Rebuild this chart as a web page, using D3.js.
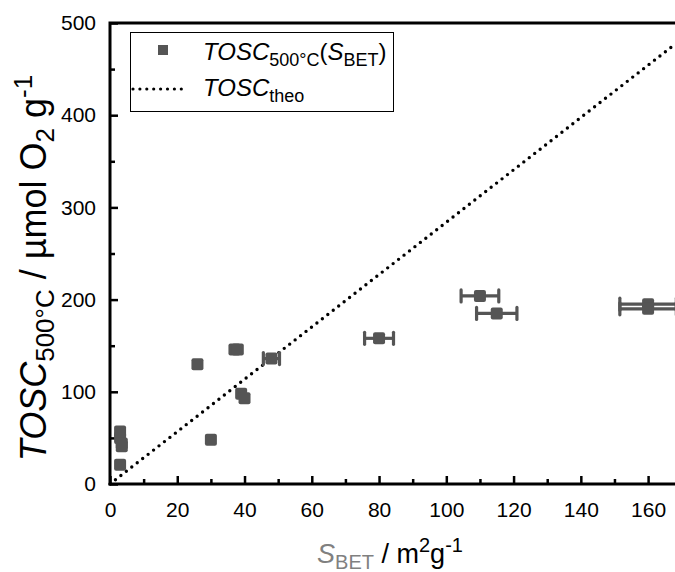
<!DOCTYPE html>
<meta charset="utf-8">
<style>
body { margin: 0; background: #fff; }
svg { font-family: "Liberation Sans", Arial, sans-serif; }
.tick text { font-size: 21px; fill: #000; }
</style>
<body>
<div id="chart"></div>
<script src="https://cdn.jsdelivr.net/npm/d3@7"></script>
<script>

var WIDTH = 675;
var HEIGHT = 572;
var PLOT_LEFT = 110;
var PLOT_RIGHT = 675;
var PLOT_TOP = 23;
var PLOT_BOTTOM = 484;
var MARK_COLOR = '#555555';
var S_GRAY = '#808080';

// measured samples: surface area, oxygen storage capacity, x error
var sBet    = [3,  3,  3.5, 3.5, 3,  26,  30, 37,  38,  39, 40, 48,  80,  110, 115, 160, 160];
var tosc    = [57, 50, 44,  41,  21, 130, 48, 146, 146, 98, 93, 136, 158, 204, 185, 195, 190];
var sBetErr = [0,  0,  0,   0,   0,  0,   0,  0,   0,   0,  0,  2.4, 4.3, 5.6, 6,   8.4, 8.4];

// theoretical capacity line end points
var theoS = [0, 168];
var theoTosc = [0, 477];

var xMajor = [0, 20, 40, 60, 80, 100, 120, 140, 160];
var xMinor = [10, 30, 50, 70, 90, 110, 130, 150];
var yMajor = [0, 100, 200, 300, 400, 500];
var yMinor = [50, 150, 250, 350, 450];

var svg = d3.select('#chart').append('svg')
    .attr('width', WIDTH)
    .attr('height', HEIGHT);

var x = d3.scaleLinear().domain([0, 168]).range([PLOT_LEFT, PLOT_RIGHT]);
var y = d3.scaleLinear().domain([0, 500]).range([PLOT_BOTTOM, PLOT_TOP]);

// axes with inward ticks
var xAxis = svg.append('g')
    .attr('transform', 'translate(0,' + PLOT_BOTTOM + ')')
    .call(d3.axisBottom(x).tickValues(xMajor).tickSize(-8).tickPadding(18));
xAxis.select('.domain').remove();
xAxis.selectAll('.tick line').attr('stroke', '#000').attr('stroke-width', 2.5);

var xAxisMinor = svg.append('g')
    .attr('transform', 'translate(0,' + PLOT_BOTTOM + ')')
    .call(d3.axisBottom(x).tickValues(xMinor).tickSize(-5).tickFormat(''));
xAxisMinor.select('.domain').remove();
xAxisMinor.selectAll('.tick line').attr('stroke', '#000').attr('stroke-width', 2.5);

var yAxis = svg.append('g')
    .attr('transform', 'translate(' + PLOT_LEFT + ',0)')
    .call(d3.axisLeft(y).tickValues(yMajor).tickSize(-8).tickPadding(14));
yAxis.select('.domain').remove();
yAxis.selectAll('.tick line').attr('stroke', '#000').attr('stroke-width', 2.5);

var yAxisMinor = svg.append('g')
    .attr('transform', 'translate(' + PLOT_LEFT + ',0)')
    .call(d3.axisLeft(y).tickValues(yMinor).tickSize(-5).tickFormat(''));
yAxisMinor.select('.domain').remove();
yAxisMinor.selectAll('.tick line').attr('stroke', '#000').attr('stroke-width', 2.5);

svg.selectAll('.tick text').attr('font-family', null).attr('font-size', null);

// frame
svg.append('path')
    .attr('d', 'M' + PLOT_RIGHT + ',' + PLOT_TOP + 'H' + PLOT_LEFT + 'V' + PLOT_BOTTOM + 'H' + PLOT_RIGHT)
    .attr('fill', 'none')
    .attr('stroke', '#000')
    .attr('stroke-width', 3);

// theoretical line, dotted
svg.append('line')
    .attr('x1', x(theoS[0]))
    .attr('y1', y(theoTosc[0]))
    .attr('x2', x(theoS[1]))
    .attr('y2', y(theoTosc[1]))
    .attr('stroke', '#000')
    .attr('stroke-width', 3.4)
    .attr('stroke-linecap', 'round')
    .attr('stroke-dasharray', '0 6.9');

var points = sBet.map(function(s, i) {
  return {s: s, t: tosc[i], e: sBetErr[i]};
});

// horizontal error bars
var bars = svg.append('g').selectAll('g')
    .data(points.filter(function(d) { return d.e > 0; }))
    .enter().append('g')
    .attr('stroke', MARK_COLOR)
    .attr('stroke-width', 3.2);
bars.append('line')
    .attr('x1', function(d) { return x(d.s - d.e); })
    .attr('x2', function(d) { return x(d.s + d.e); })
    .attr('y1', function(d) { return y(d.t); })
    .attr('y2', function(d) { return y(d.t); });
bars.append('line')
    .attr('x1', function(d) { return x(d.s - d.e); })
    .attr('x2', function(d) { return x(d.s - d.e); })
    .attr('y1', function(d) { return y(d.t) - 6; })
    .attr('y2', function(d) { return y(d.t) + 6; })
    .attr('stroke-linecap', 'round');
bars.append('line')
    .attr('x1', function(d) { return x(d.s + d.e); })
    .attr('x2', function(d) { return x(d.s + d.e); })
    .attr('y1', function(d) { return y(d.t) - 6; })
    .attr('y2', function(d) { return y(d.t) + 6; })
    .attr('stroke-linecap', 'round');

// square markers
var SQ = 12;
svg.append('g').selectAll('rect')
    .data(points)
    .enter().append('rect')
    .attr('x', function(d) { return x(d.s) - SQ / 2; })
    .attr('y', function(d) { return y(d.t) - SQ / 2; })
    .attr('width', SQ)
    .attr('height', SQ)
    .attr('rx', 2)
    .attr('fill', MARK_COLOR);

// legend
var legend = svg.append('g');
legend.append('rect')
    .attr('x', 130.5)
    .attr('y', 32.5)
    .attr('width', 263)
    .attr('height', 79)
    .attr('fill', '#fff')
    .attr('stroke', '#000')
    .attr('stroke-width', 1);
legend.append('rect')
    .attr('x', 158)
    .attr('y', 45)
    .attr('width', 10)
    .attr('height', 10)
    .attr('fill', MARK_COLOR);
legend.append('line')
    .attr('x1', 133)
    .attr('x2', 184)
    .attr('y1', 89)
    .attr('y2', 89)
    .attr('stroke', '#000')
    .attr('stroke-width', 3.2)
    .attr('stroke-linecap', 'round')
    .attr('stroke-dasharray', '0 6.9');

var lt1 = legend.append('text').attr('x', 203).attr('y', 60).attr('font-size', 24);
lt1.append('tspan').attr('font-style', 'italic').text('TOSC');
lt1.append('tspan').attr('font-size', 18).attr('dy', 6).text('500°C');
lt1.append('tspan').attr('dy', -6).text('(');
lt1.append('tspan').attr('font-style', 'italic').text('S');
lt1.append('tspan').attr('font-size', 18).attr('dy', 6).text('BET');
lt1.append('tspan').attr('dy', -6).text(')');

var lt2 = legend.append('text').attr('x', 203).attr('y', 96).attr('font-size', 24);
lt2.append('tspan').attr('font-style', 'italic').text('TOSC');
lt2.append('tspan').attr('font-size', 18).attr('dy', 6).text('theo');

// x axis title
var xt = svg.append('text')
    .attr('x', 390)
    .attr('y', 563)
    .attr('text-anchor', 'middle')
    .attr('font-size', 27);
xt.append('tspan').attr('font-style', 'italic').attr('fill', S_GRAY).text('S');
xt.append('tspan').attr('font-size', 20).attr('dy', 6).attr('fill', S_GRAY).text('BET');
xt.append('tspan').attr('dy', -6).text(' / m');
xt.append('tspan').attr('font-size', 20).attr('dy', -11).text('2');
xt.append('tspan').attr('dy', 11).text('g');
xt.append('tspan').attr('font-size', 20).attr('dy', -11).text('-1');

// y axis title
var yt = svg.append('text')
    .attr('transform', 'translate(46,' + 268 + ') rotate(-90)')
    .attr('text-anchor', 'middle')
    .attr('font-size', 36);
yt.append('tspan').attr('font-style', 'italic').text('TOSC');
yt.append('tspan').attr('font-size', 26).attr('dy', 8).text('500°C');
yt.append('tspan').attr('dy', -8).text(' / µmol O');
yt.append('tspan').attr('font-size', 26).attr('dy', 8).text('2');
yt.append('tspan').attr('dy', -8).text(' g');
yt.append('tspan').attr('font-size', 26).attr('dy', -14).text('-1');

</script>
</body>
